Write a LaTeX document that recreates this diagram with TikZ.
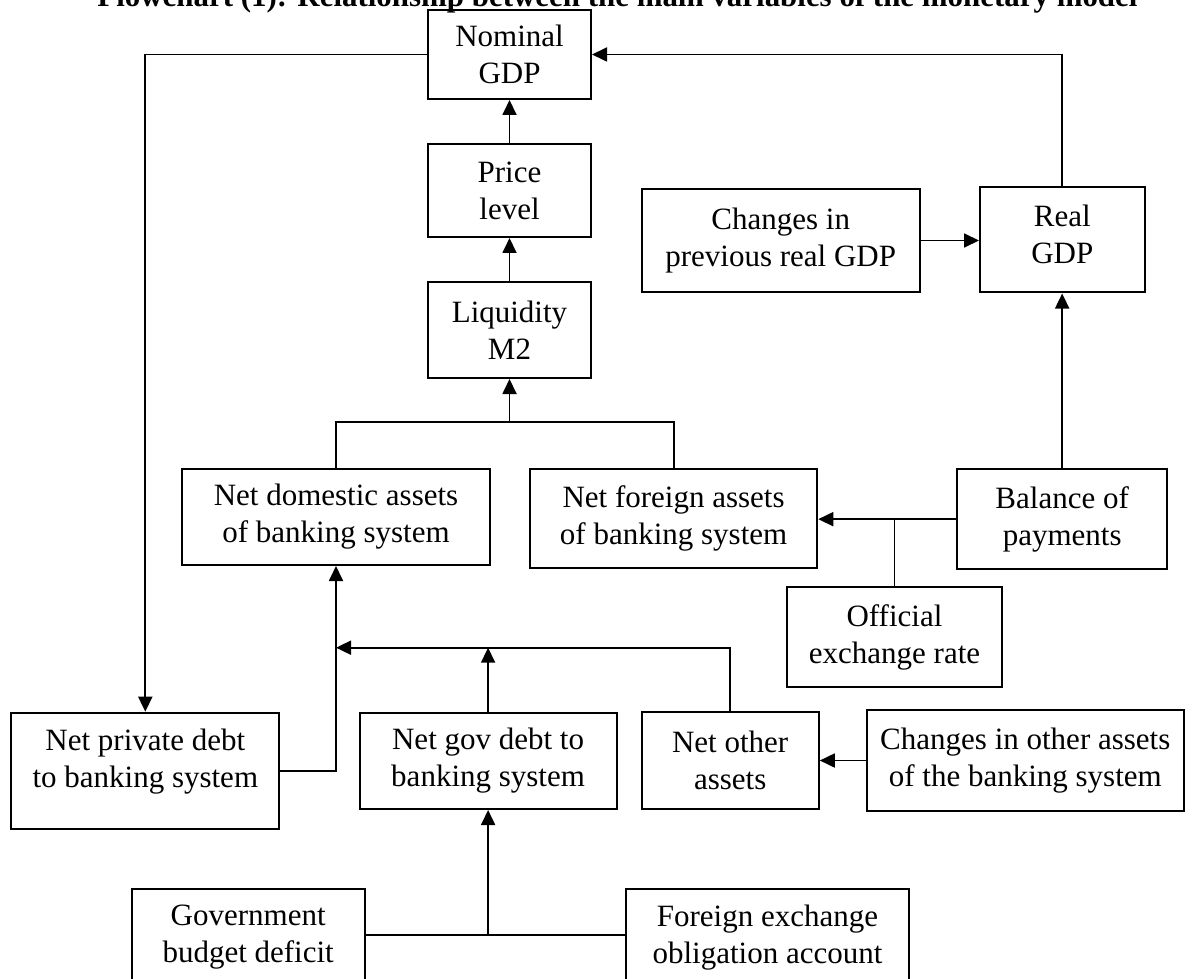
\documentclass[tikz,border=0pt]{standalone}
\usepackage{fontspec}
\usepackage{graphicx}
\setmainfont{Liberation Serif}
\usetikzlibrary{arrows.meta}
\tikzset{
  box/.style={draw, line width=1pt, align=center, inner sep=0pt, font=\fontsize{15.5}{18.5}\selectfont},
  txt/.style={align=center, inner sep=0pt, font=\fontsize{15.5}{18.5}\selectfont},
  conn/.style={line width=0.9pt},
  arr/.style={line width=0.9pt, -{Triangle[length=7.5pt,width=7pt]}}
}
\begin{document}
\begin{tikzpicture}[x=0.5pt,y=-0.5pt]
\useasboundingbox (0,0) rectangle (1197,978);
\clip (0,0) rectangle (1197,978);
\fill[white] (0,0) rectangle (1197,978);
% title (partly cut at the top edge, as in the reference)
\node[anchor=base west, inner sep=0pt] (title) at (97,6.5)
  {\resizebox{520pt}{!}{\bfseries Flowchart (1): Relationship between the main variables of the monetary model}};
% boxes
\node[box, minimum width=81.5pt, minimum height=44.5pt] (nom) at (509.5,54.5) {Nominal\\GDP};
\node[box, minimum width=81.5pt, minimum height=46.5pt] (price) at (509.5,190.5) {Price\\level};
\node[box, minimum width=81.5pt, minimum height=48pt] (liq) at (509.5,330) {Liquidity\\M2};
\node[box, minimum width=139.25pt, minimum height=51.5pt] (chprev) at (780.75,240.5) {Changes in\\previous real GDP};
\node[box, minimum width=82.25pt, minimum height=52.75pt] (real) at (1062.25,239.75) {};
\node[txt] (real-t) at (1062.25,234) {Real\\GDP};
\node[box, minimum width=154pt, minimum height=48pt] (netdom) at (336,517) {Net domestic assets\\of banking system};
\node[box, minimum width=143.65pt, minimum height=49.65pt] (netfor) at (673.6,518.6) {Net foreign assets\\of banking system};
\node[box, minimum width=105.15pt, minimum height=50.15pt] (bop) at (1062.15,519.15) {Balance of\\payments};
\node[box, minimum width=107.5pt, minimum height=50.15pt] (official) at (894.5,637.15) {Official\\exchange rate};
\node[box, minimum width=134pt, minimum height=58pt] (npriv) at (145.3,770.7) {};
\node[txt] (npriv-t) at (145.3,762) {Net private debt\\to banking system};
\node[box, minimum width=128.6pt, minimum height=48.15pt] (ngov) at (488.1,760.85) {Net gov debt to\\banking system};
\node[box, minimum width=88.65pt, minimum height=48.2pt] (nother) at (730.15,760.5) {Net other\\assets};
\node[box, minimum width=158.7pt, minimum height=50.2pt] (chother) at (1025.3,760.5) {Changes in other assets\\of the banking system};
\node[box, minimum width=116.6pt, minimum height=48.2pt] (gov) at (248.2,937.5) {Government\\budget deficit};
\node[box, minimum width=141.5pt, minimum height=48.2pt] (forex) at (767.5,937.5) {Foreign exchange\\obligation account};
% junction points
\coordinate (bus1) at (509.5,422);
\coordinate (bus2) at (488.1,647.7);
\coordinate (bus3) at (488.1,935);
% connectors
\draw[arr] (price) -- (nom);
\draw[arr] (liq) -- (price);
\draw[arr] (real.north) |- (nom.east);
\draw[arr] (nom.west) -| (npriv.north);
\draw[arr] (chprev.east) -- (chprev.east -| real.west);
\draw[arr] (bop.north) -- (bop.north |- real.south);
\draw[arr] (bop.west) -- (bop.west -| netfor.east);
\draw[conn] (official.north) -- (official.north |- bop.west);
\draw[conn] (netdom.north) |- (bus1) -| (netfor.north);
\draw[arr] (bus1) -- (liq.south);
\draw[arr] (npriv.east) -| (netdom.south);
\draw[arr] (nother.north) |- (netdom.south |- bus2);
\draw[arr] (ngov.north) -- (bus2);
\draw[arr] (chother.west) -- (chother.west -| nother.east);
\draw[conn] (gov.east |- bus3) -- (forex.west |- bus3);
\draw[arr] (bus3) -- (ngov.south);
\end{tikzpicture}
\end{document}
